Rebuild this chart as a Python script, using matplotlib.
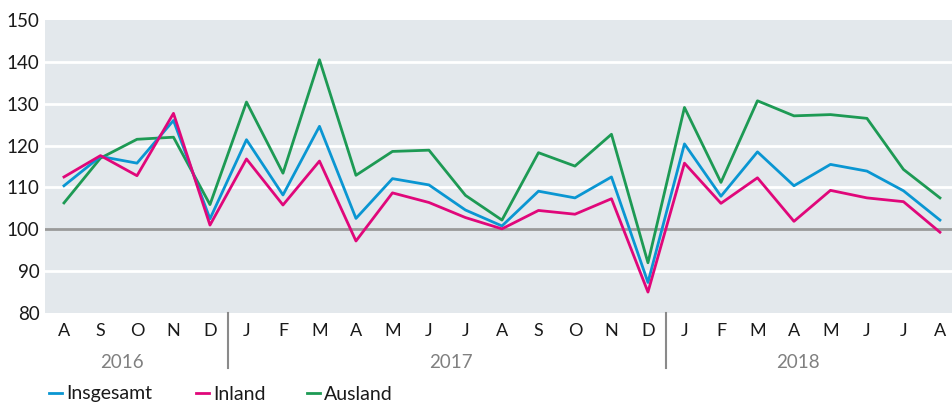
import matplotlib.pyplot as plt
from matplotlib.lines import Line2D

months = ['A', 'S', 'O', 'N', 'D',
          'J', 'F', 'M', 'A', 'M', 'J', 'J', 'A', 'S', 'O', 'N', 'D',
          'J', 'F', 'M', 'A', 'M', 'J', 'J', 'A']
years = ['2016', '2017', '2018']
year_pos = [1.6, 10.6, 20.1]
year_breaks = [4.5, 16.5]

insgesamt = [110.4, 117.4, 115.8, 126.0, 102.5,
             121.4, 108.2, 124.6, 102.6, 112.1, 110.6, 104.6, 100.8, 109.1, 107.5, 112.5, 87.3,
             120.4, 107.9, 118.5, 110.4, 115.5, 113.9, 109.2, 102.2]
inland = [112.5, 117.6, 112.8, 127.7, 101.0,
          116.8, 105.8, 116.3, 97.2, 108.7, 106.4, 102.8, 100.1, 104.5, 103.6, 107.3, 85.0,
          115.8, 106.2, 112.3, 101.9, 109.3, 107.5, 106.6, 99.3]
ausland = [106.3, 117.0, 121.5, 122.0, 105.9,
           130.4, 113.4, 140.5, 112.9, 118.6, 118.9, 108.1, 102.2, 118.3, 115.1, 122.7, 92.0,
           129.1, 111.2, 130.7, 127.1, 127.4, 126.5, 114.3, 107.5]

c_ins = '#0a96d2'
c_inl = '#e0077a'
c_aus = '#1d9a54'

plt.rcParams['font.family'] = ['Lato', 'DejaVu Sans']

fig = plt.figure(figsize=(9.52, 4.05), dpi=100)
ax = fig.add_axes([45 / 952, 1 - 313 / 405, 907 / 952, 293 / 405])
ax.set_facecolor('#e3e8ec')

x = list(range(len(months)))
for yv in range(90, 150, 10):
    if yv == 100:
        ax.axhline(yv, color='#9a9a9a', lw=2, zorder=1)
    else:
        ax.axhline(yv, color='white', lw=2, zorder=1)

ax.plot(x, ausland, color=c_aus, lw=2, zorder=3)
ax.plot(x, insgesamt, color=c_ins, lw=2, zorder=4)
ax.plot(x, inland, color=c_inl, lw=2, zorder=5)

ax.set_xlim(-0.52, 24.33)
ax.set_ylim(80, 150)
ax.set_yticks(range(80, 151, 10))
ax.set_xticks(x)
ax.set_xticklabels(months)
ax.tick_params(axis='both', length=0, colors='#1a1a1a')
ax.tick_params(axis='x', pad=7, labelsize=13)
ax.tick_params(axis='y', pad=4, labelsize=13.5)
for s in ax.spines.values():
    s.set_visible(False)

for xb in year_breaks:
    ax.plot([xb, xb], [0, -0.188], transform=ax.get_xaxis_transform(),
            color='#8a8a8a', lw=1.5, clip_on=False)
for yp, yl in zip(year_pos, years):
    ax.text(yp, -0.168, yl, transform=ax.get_xaxis_transform(), ha='center', va='center',
            fontsize=13.5, color='#808080')

legend_items = [('Insgesamt', c_ins, 49), ('Inland', c_inl, 196), ('Ausland', c_aus, 307)]
for label, col, px in legend_items:
    fig.add_artist(Line2D([px / 952, (px + 13) / 952], [1 - 393 / 405] * 2, color=col, lw=2))
    fig.text((px + 17) / 952, 1 - 394 / 405, label, ha='left', va='center', fontsize=14,
             color='#1a1a1a')

fig.savefig('out.png', dpi=100)
